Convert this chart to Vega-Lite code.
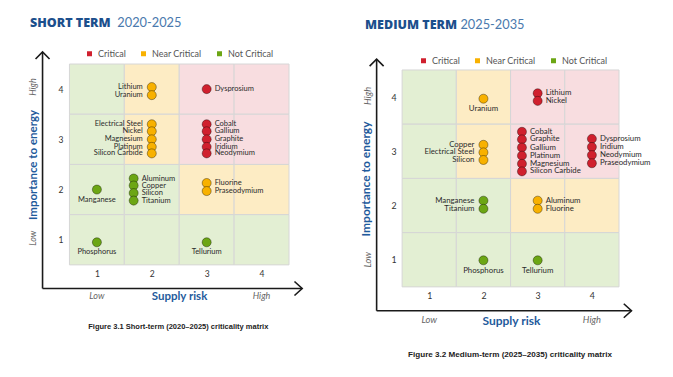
{
"$schema": "https://vega.github.io/schema/vega-lite/v6.json",
"background": "white",
"padding": {"left": 27, "top": 17, "right": 0, "bottom": 0},
"spacing": 53,
"config": {"view": {"stroke": null}},
"resolve": {"scale": {"x": "independent", "y": "independent", "color": "independent", "fill": "independent"}, "legend": {"color": "independent"}},
"datasets": {
"one": [{}],
"cells": [
{"x1": 0.5, "x2": 1.5, "y1": 3.5, "y2": 4.5, "zone": "Not Critical"},
{"x1": 1.5, "x2": 2.5, "y1": 3.5, "y2": 4.5, "zone": "Near Critical"},
{"x1": 2.5, "x2": 3.5, "y1": 3.5, "y2": 4.5, "zone": "Critical"},
{"x1": 3.5, "x2": 4.5, "y1": 3.5, "y2": 4.5, "zone": "Critical"},
{"x1": 0.5, "x2": 1.5, "y1": 2.5, "y2": 3.5, "zone": "Not Critical"},
{"x1": 1.5, "x2": 2.5, "y1": 2.5, "y2": 3.5, "zone": "Near Critical"},
{"x1": 2.5, "x2": 3.5, "y1": 2.5, "y2": 3.5, "zone": "Critical"},
{"x1": 3.5, "x2": 4.5, "y1": 2.5, "y2": 3.5, "zone": "Critical"},
{"x1": 0.5, "x2": 1.5, "y1": 1.5, "y2": 2.5, "zone": "Not Critical"},
{"x1": 1.5, "x2": 2.5, "y1": 1.5, "y2": 2.5, "zone": "Not Critical"},
{"x1": 2.5, "x2": 3.5, "y1": 1.5, "y2": 2.5, "zone": "Near Critical"},
{"x1": 3.5, "x2": 4.5, "y1": 1.5, "y2": 2.5, "zone": "Near Critical"},
{"x1": 0.5, "x2": 1.5, "y1": 0.5, "y2": 1.5, "zone": "Not Critical"},
{"x1": 1.5, "x2": 2.5, "y1": 0.5, "y2": 1.5, "zone": "Not Critical"},
{"x1": 2.5, "x2": 3.5, "y1": 0.5, "y2": 1.5, "zone": "Not Critical"},
{"x1": 3.5, "x2": 4.5, "y1": 0.5, "y2": 1.5, "zone": "Not Critical"}
],
"short": [
{"n": "Lithium", "r": 2, "i": 4.04, "c": "Near Critical", "p": "left"},
{"n": "Uranium", "r": 2, "i": 3.88, "c": "Near Critical", "p": "left"},
{"n": "Dysprosium", "r": 3, "i": 4.0, "c": "Critical", "p": "right"},
{"n": "Electrical Steel", "r": 2, "i": 3.3, "c": "Near Critical", "p": "left"},
{"n": "Nickel", "r": 2, "i": 3.16, "c": "Near Critical", "p": "left"},
{"n": "Magnesium", "r": 2, "i": 3.0, "c": "Near Critical", "p": "left"},
{"n": "Platinum", "r": 2, "i": 2.85, "c": "Near Critical", "p": "left"},
{"n": "Silicon Carbide", "r": 2, "i": 2.72, "c": "Near Critical", "p": "left"},
{"n": "Cobalt", "r": 3, "i": 3.3, "c": "Critical", "p": "right"},
{"n": "Gallium", "r": 3, "i": 3.16, "c": "Critical", "p": "right"},
{"n": "Graphite", "r": 3, "i": 3.0, "c": "Critical", "p": "right"},
{"n": "Iridium", "r": 3, "i": 2.85, "c": "Critical", "p": "right"},
{"n": "Neodymium", "r": 3, "i": 2.72, "c": "Critical", "p": "right"},
{"n": "Manganese", "r": 1, "i": 2.0, "c": "Not Critical", "p": "below"},
{"n": "Aluminum", "r": 1.67, "i": 2.22, "c": "Not Critical", "p": "right"},
{"n": "Copper", "r": 1.67, "i": 2.08, "c": "Not Critical", "p": "right"},
{"n": "Silicon", "r": 1.67, "i": 1.93, "c": "Not Critical", "p": "right"},
{"n": "Titanium", "r": 1.67, "i": 1.78, "c": "Not Critical", "p": "right"},
{"n": "Fluorine", "r": 3, "i": 2.13, "c": "Near Critical", "p": "right"},
{"n": "Praseodymium", "r": 3, "i": 1.97, "c": "Near Critical", "p": "right"},
{"n": "Phosphorus", "r": 1, "i": 0.95, "c": "Not Critical", "p": "below"},
{"n": "Tellurium", "r": 3, "i": 0.95, "c": "Not Critical", "p": "below"}
],
"medium": [
{"n": "Uranium", "r": 2, "i": 3.97, "c": "Near Critical", "p": "below"},
{"n": "Lithium", "r": 3, "i": 4.07, "c": "Critical", "p": "right"},
{"n": "Nickel", "r": 3, "i": 3.93, "c": "Critical", "p": "right"},
{"n": "Copper", "r": 2, "i": 3.12, "c": "Near Critical", "p": "left"},
{"n": "Electrical Steel", "r": 2, "i": 2.98, "c": "Near Critical", "p": "left"},
{"n": "Silicon", "r": 2, "i": 2.84, "c": "Near Critical", "p": "left"},
{"n": "Cobalt", "r": 2.71, "i": 3.36, "c": "Critical", "p": "right"},
{"n": "Graphite", "r": 2.71, "i": 3.22, "c": "Critical", "p": "right"},
{"n": "Gallium", "r": 2.71, "i": 3.07, "c": "Critical", "p": "right"},
{"n": "Platinum", "r": 2.71, "i": 2.92, "c": "Critical", "p": "right"},
{"n": "Magnesium", "r": 2.71, "i": 2.77, "c": "Critical", "p": "right"},
{"n": "Silicon Carbide", "r": 2.71, "i": 2.63, "c": "Critical", "p": "right"},
{"n": "Dysprosium", "r": 4, "i": 3.23, "c": "Critical", "p": "right"},
{"n": "Iridium", "r": 4, "i": 3.08, "c": "Critical", "p": "right"},
{"n": "Neodymium", "r": 4, "i": 2.93, "c": "Critical", "p": "right"},
{"n": "Praseodymium", "r": 4, "i": 2.78, "c": "Critical", "p": "right"},
{"n": "Manganese", "r": 2, "i": 2.09, "c": "Not Critical", "p": "left"},
{"n": "Titanium", "r": 2, "i": 1.94, "c": "Not Critical", "p": "left"},
{"n": "Aluminum", "r": 3, "i": 2.09, "c": "Near Critical", "p": "right"},
{"n": "Fluorine", "r": 3, "i": 1.94, "c": "Near Critical", "p": "right"},
{"n": "Phosphorus", "r": 2, "i": 0.99, "c": "Not Critical", "p": "below"},
{"n": "Tellurium", "r": 3, "i": 0.99, "c": "Not Critical", "p": "below"}
]
},
"hconcat": [
{
"width": 247, "height": 226,
"layer": [
{"data": {"name": "cells"}, "mark": {"type": "rect", "stroke": "#d6d6d6", "strokeWidth": 1},
 "encoding": {
  "x": {"field": "x1", "type": "quantitative", "scale": {"domain": [0, 4.5], "nice": false, "zero": false},
   "axis": {"values": [1, 2, 3, 4], "format": "d", "title": "Supply risk", "domain": false, "ticks": false, "grid": false, "offset": -25, "labelPadding": 4, "labelFont": "Lato", "labelFontSize": 8.5, "labelColor": "#333", "titleFont": "Lato", "titleFontSize": 11.5, "titleFontWeight": "bold", "titleColor": "#1f5b9c", "titleX": 137, "titleY": 31, "titleBaseline": "middle", "titleAlign": "center"}},
  "x2": {"field": "x2"},
  "y": {"field": "y1", "type": "quantitative", "scale": {"domain": [0, 4.5], "nice": false, "zero": false},
   "axis": {"values": [1, 2, 3, 4], "format": "d", "title": "Importance to energy", "domain": false, "ticks": false, "grid": false, "offset": -27, "labelPadding": 6, "labelFont": "Lato", "labelFontSize": 8.5, "labelColor": "#333", "titleFont": "Lato", "titleFontSize": 11.5, "titleFontWeight": "bold", "titleColor": "#1f5b9c", "titleX": -36, "titleY": 100.5, "titleAngle": -90, "titleBaseline": "middle", "titleAlign": "center"}},
  "y2": {"field": "y2"},
  "fill": {"field": "zone", "type": "nominal", "scale": {"domain": ["Not Critical", "Near Critical", "Critical"], "range": ["#e3efd3", "#fdecc4", "#f8dde0"]}, "legend": null}
 }},
{"data": {"name": "short"}, "mark": {"type": "point", "filled": true, "size": 82, "stroke": "#000", "strokeOpacity": 0.45, "strokeWidth": 0.8, "opacity": 1},
 "encoding": {
  "x": {"field": "r", "type": "quantitative"},
  "y": {"field": "i", "type": "quantitative"},
  "color": {"field": "c", "type": "nominal", "scale": {"domain": ["Critical", "Near Critical", "Not Critical"], "range": ["#d0202e", "#f8b100", "#6ca614"]},
   "legend": {"orient": "none", "legendX": 43, "legendY": -15, "direction": "horizontal", "title": null, "symbolType": "square", "symbolSize": 25, "symbolStrokeWidth": 0, "symbolOpacity": 1, "labelFont": "Lato", "labelFontSize": 9, "labelColor": "#555", "labelOffset": 4, "columnPadding": 13}}
 }},
{"data": {"name": "short"}, "transform": [{"filter": "datum.p === 'right'"}], "mark": {"type": "text", "align": "left", "baseline": "middle", "dx": 8, "font": "Lato", "fontSize": 7.5, "color": "#2b2b2b"},
 "encoding": {"x": {"field": "r", "type": "quantitative"}, "y": {"field": "i", "type": "quantitative"}, "text": {"field": "n"}}},
{"data": {"name": "short"}, "transform": [{"filter": "datum.p === 'left'"}], "mark": {"type": "text", "align": "right", "baseline": "middle", "dx": -9, "font": "Lato", "fontSize": 7.5, "color": "#2b2b2b"},
 "encoding": {"x": {"field": "r", "type": "quantitative"}, "y": {"field": "i", "type": "quantitative"}, "text": {"field": "n"}}},
{"data": {"name": "short"}, "transform": [{"filter": "datum.p === 'below'"}], "mark": {"type": "text", "align": "center", "baseline": "middle", "dy": 10, "font": "Lato", "fontSize": 7.5, "color": "#2b2b2b"},
 "encoding": {"x": {"field": "r", "type": "quantitative"}, "y": {"field": "i", "type": "quantitative"}, "text": {"field": "n"}}},
{"data": {"name": "one"}, "mark": {"type": "rule", "stroke": "#1a1a1a", "strokeWidth": 1.6, "clip": false},
 "encoding": {"x": {"datum": 0.01, "type": "quantitative"}, "y": {"datum": 0.03, "type": "quantitative"}, "y2": {"datum": 4.74}}},
{"data": {"name": "one"}, "mark": {"type": "rule", "stroke": "#1a1a1a", "strokeWidth": 1.6, "clip": false},
 "encoding": {"x": {"datum": 0.01, "type": "quantitative"}, "x2": {"datum": 4.74}, "y": {"datum": 0.03, "type": "quantitative"}}},
{"data": {"name": "one"}, "mark": {"type": "point", "shape": "M-1,1L0,0L1,1", "filled": false, "size": 196, "stroke": "#1a1a1a", "strokeWidth": 1.6, "opacity": 1, "clip": false},
 "encoding": {"x": {"datum": 0.01, "type": "quantitative"}, "y": {"datum": 4.74, "type": "quantitative"}}},
{"data": {"name": "one"}, "mark": {"type": "point", "shape": "M-1.1,-1L0,0L-1.1,1", "filled": false, "size": 196, "stroke": "#1a1a1a", "strokeWidth": 1.6, "opacity": 1, "clip": false},
 "encoding": {"x": {"datum": 4.74, "type": "quantitative"}, "y": {"datum": 0.03, "type": "quantitative"}}},
{"data": {"name": "one"}, "mark": {"type": "text", "text": "High", "angle": 270, "align": "center", "baseline": "middle", "font": "Lato", "fontStyle": "italic", "fontSize": 9, "color": "#666", "clip": false},
 "encoding": {"x": {"datum": -0.164, "type": "quantitative"}, "y": {"datum": 4.04, "type": "quantitative"}}},
{"data": {"name": "one"}, "mark": {"type": "text", "text": "Low", "angle": 270, "align": "center", "baseline": "middle", "font": "Lato", "fontStyle": "italic", "fontSize": 9, "color": "#666", "clip": false},
 "encoding": {"x": {"datum": -0.164, "type": "quantitative"}, "y": {"datum": 1.03, "type": "quantitative"}}},
{"data": {"name": "one"}, "mark": {"type": "text", "text": "Low", "align": "center", "baseline": "middle", "font": "Lato", "fontStyle": "italic", "fontSize": 9, "color": "#666", "clip": false},
 "encoding": {"x": {"datum": 1, "type": "quantitative"}, "y": {"datum": -0.12, "type": "quantitative"}}},
{"data": {"name": "one"}, "mark": {"type": "text", "text": "High", "align": "center", "baseline": "middle", "font": "Lato", "fontStyle": "italic", "fontSize": 9, "color": "#666", "clip": false},
 "encoding": {"x": {"datum": 4, "type": "quantitative"}, "y": {"datum": -0.12, "type": "quantitative"}}},
{"data": {"name": "one"}, "mark": {"type": "text", "text": "SHORT TERM", "align": "left", "baseline": "alphabetic", "font": "Open Sans", "fontWeight": 800, "fontSize": 12.5, "color": "#1c4f8c", "clip": false},
 "encoding": {"x": {"datum": -0.219, "type": "quantitative"}, "y": {"datum": 5.23, "type": "quantitative"}}},
{"data": {"name": "one"}, "mark": {"type": "text", "text": "2020-2025", "align": "left", "baseline": "alphabetic", "font": "Lato", "fontSize": 12.8, "color": "#4a79ad", "clip": false},
 "encoding": {"x": {"datum": 1.372, "type": "quantitative"}, "y": {"datum": 5.23, "type": "quantitative"}}},
{"data": {"name": "one"}, "mark": {"type": "text", "text": "Figure 3.1 Short-term (2020\u20132025) criticality matrix", "align": "center", "baseline": "middle", "font": "Liberation Sans", "fontWeight": "bold", "fontSize": 7.5, "color": "#222", "clip": false},
 "encoding": {"x": {"datum": 2.483, "type": "quantitative"}, "y": {"datum": -0.743, "type": "quantitative"}}}
]
},
{
"width": 244, "height": 250,
"layer": [
{"data": {"name": "cells"}, "mark": {"type": "rect", "stroke": "#d6d6d6", "strokeWidth": 1},
 "encoding": {
  "x": {"field": "x1", "type": "quantitative", "scale": {"domain": [0, 4.5], "nice": false, "zero": false},
   "axis": {"values": [1, 2, 3, 4], "format": "d", "title": "Supply risk", "domain": false, "ticks": false, "grid": false, "offset": -27, "labelPadding": 4, "labelFont": "Lato", "labelFontSize": 8.8, "labelColor": "#333", "titleFont": "Lato", "titleFontSize": 12, "titleFontWeight": "bold", "titleColor": "#1f5b9c", "titleX": 136, "titleY": 33, "titleBaseline": "middle", "titleAlign": "center"}},
  "x2": {"field": "x2"},
  "y": {"field": "y1", "type": "quantitative", "scale": {"domain": [0, 4.61], "nice": false, "zero": false},
   "axis": {"values": [1, 2, 3, 4], "format": "d", "title": "Importance to energy", "domain": false, "ticks": false, "grid": false, "offset": -27, "labelPadding": 6, "labelFont": "Lato", "labelFontSize": 8.8, "labelColor": "#333", "titleFont": "Lato", "titleFontSize": 12, "titleFontWeight": "bold", "titleColor": "#1f5b9c", "titleX": -37, "titleY": 114.5, "titleAngle": -90, "titleBaseline": "middle", "titleAlign": "center"}},
  "y2": {"field": "y2"},
  "fill": {"field": "zone", "type": "nominal", "scale": {"domain": ["Not Critical", "Near Critical", "Critical"], "range": ["#e3efd3", "#fdecc4", "#f8dde0"]}, "legend": null}
 }},
{"data": {"name": "medium"}, "mark": {"type": "point", "filled": true, "size": 82, "stroke": "#000", "strokeOpacity": 0.45, "strokeWidth": 0.8, "opacity": 1},
 "encoding": {
  "x": {"field": "r", "type": "quantitative"},
  "y": {"field": "i", "type": "quantitative"},
  "color": {"field": "c", "type": "nominal", "scale": {"domain": ["Critical", "Near Critical", "Not Critical"], "range": ["#d0202e", "#f8b100", "#6ca614"]},
   "legend": {"orient": "none", "legendX": 44, "legendY": -8, "direction": "horizontal", "title": null, "symbolType": "square", "symbolSize": 25, "symbolStrokeWidth": 0, "symbolOpacity": 1, "labelFont": "Lato", "labelFontSize": 9, "labelColor": "#555", "labelOffset": 4, "columnPadding": 13}}
 }},
{"data": {"name": "medium"}, "transform": [{"filter": "datum.p === 'right'"}], "mark": {"type": "text", "align": "left", "baseline": "middle", "dx": 8, "font": "Lato", "fontSize": 7.8, "color": "#2b2b2b"},
 "encoding": {"x": {"field": "r", "type": "quantitative"}, "y": {"field": "i", "type": "quantitative"}, "text": {"field": "n"}}},
{"data": {"name": "medium"}, "transform": [{"filter": "datum.p === 'left'"}], "mark": {"type": "text", "align": "right", "baseline": "middle", "dx": -9, "font": "Lato", "fontSize": 7.8, "color": "#2b2b2b"},
 "encoding": {"x": {"field": "r", "type": "quantitative"}, "y": {"field": "i", "type": "quantitative"}, "text": {"field": "n"}}},
{"data": {"name": "medium"}, "transform": [{"filter": "datum.p === 'below'"}], "mark": {"type": "text", "align": "center", "baseline": "middle", "dy": 10.5, "font": "Lato", "fontSize": 7.8, "color": "#2b2b2b"},
 "encoding": {"x": {"field": "r", "type": "quantitative"}, "y": {"field": "i", "type": "quantitative"}, "text": {"field": "n"}}},
{"data": {"name": "one"}, "mark": {"type": "rule", "stroke": "#1a1a1a", "strokeWidth": 1.6, "clip": false},
 "encoding": {"x": {"datum": 0.03, "type": "quantitative"}, "y": {"datum": 0.06, "type": "quantitative"}, "y2": {"datum": 4.7}}},
{"data": {"name": "one"}, "mark": {"type": "rule", "stroke": "#1a1a1a", "strokeWidth": 1.6, "clip": false},
 "encoding": {"x": {"datum": 0.03, "type": "quantitative"}, "x2": {"datum": 4.73}, "y": {"datum": 0.06, "type": "quantitative"}}},
{"data": {"name": "one"}, "mark": {"type": "point", "shape": "M-1,1L0,0L1,1", "filled": false, "size": 196, "stroke": "#1a1a1a", "strokeWidth": 1.6, "opacity": 1, "clip": false},
 "encoding": {"x": {"datum": 0.03, "type": "quantitative"}, "y": {"datum": 4.7, "type": "quantitative"}}},
{"data": {"name": "one"}, "mark": {"type": "point", "shape": "M-1.1,-1L0,0L-1.1,1", "filled": false, "size": 196, "stroke": "#1a1a1a", "strokeWidth": 1.6, "opacity": 1, "clip": false},
 "encoding": {"x": {"datum": 4.73, "type": "quantitative"}, "y": {"datum": 0.06, "type": "quantitative"}}},
{"data": {"name": "one"}, "mark": {"type": "text", "text": "High", "angle": 270, "align": "center", "baseline": "middle", "font": "Lato", "fontStyle": "italic", "fontSize": 9.3, "color": "#666", "clip": false},
 "encoding": {"x": {"datum": -0.13, "type": "quantitative"}, "y": {"datum": 4.02, "type": "quantitative"}}},
{"data": {"name": "one"}, "mark": {"type": "text", "text": "Low", "angle": 270, "align": "center", "baseline": "middle", "font": "Lato", "fontStyle": "italic", "fontSize": 9.3, "color": "#666", "clip": false},
 "encoding": {"x": {"datum": -0.13, "type": "quantitative"}, "y": {"datum": 1.0, "type": "quantitative"}}},
{"data": {"name": "one"}, "mark": {"type": "text", "text": "Low", "align": "center", "baseline": "middle", "font": "Lato", "fontStyle": "italic", "fontSize": 9.3, "color": "#666", "clip": false},
 "encoding": {"x": {"datum": 1, "type": "quantitative"}, "y": {"datum": -0.105, "type": "quantitative"}}},
{"data": {"name": "one"}, "mark": {"type": "text", "text": "High", "align": "center", "baseline": "middle", "font": "Lato", "fontStyle": "italic", "fontSize": 9.3, "color": "#666", "clip": false},
 "encoding": {"x": {"datum": 4, "type": "quantitative"}, "y": {"datum": -0.105, "type": "quantitative"}}},
{"data": {"name": "one"}, "mark": {"type": "text", "text": "MEDIUM TERM", "align": "left", "baseline": "alphabetic", "font": "Open Sans", "fontWeight": 800, "fontSize": 12.5, "color": "#1c4f8c", "clip": false},
 "encoding": {"x": {"datum": -0.184, "type": "quantitative"}, "y": {"datum": 5.261, "type": "quantitative"}}},
{"data": {"name": "one"}, "mark": {"type": "text", "text": "2025-2035", "align": "left", "baseline": "alphabetic", "font": "Lato", "fontSize": 12.8, "color": "#4a79ad", "clip": false},
 "encoding": {"x": {"datum": 1.575, "type": "quantitative"}, "y": {"datum": 5.261, "type": "quantitative"}}},
{"data": {"name": "one"}, "mark": {"type": "text", "text": "Figure 3.2 Medium-term (2025\u20132035) criticality matrix", "align": "center", "baseline": "middle", "font": "Liberation Sans", "fontWeight": "bold", "fontSize": 8.1, "color": "#222", "clip": false},
 "encoding": {"x": {"datum": 2.49, "type": "quantitative"}, "y": {"datum": -0.762, "type": "quantitative"}}}
]
}
]
}
